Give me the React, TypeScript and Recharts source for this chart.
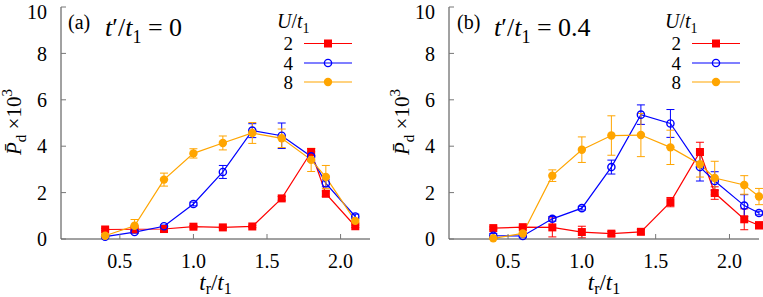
import React from 'react';
import { LineChart, Line, XAxis, YAxis, ErrorBar, Legend } from 'recharts';

// t_r / t_1 values
const trA = [0.4, 0.6, 0.8, 1.0, 1.2, 1.4, 1.6, 1.8, 1.9, 2.1];
const trB = [0.4, 0.6, 0.8, 1.0, 1.2, 1.4, 1.6, 1.8, 1.9, 2.1, 2.2];

// panel (a): t'/t1 = 0
const aU2 = [0.41, 0.42, 0.43, 0.53, 0.5, 0.54, 1.75, 3.75, 1.95, 0.55];
const aU2Err = [0.05, 0.05, 0.05, 0.05, 0.05, 0.05, 0.08, 0.15, 0.12, 0.05];
const aU4 = [0.1, 0.3, 0.55, 1.51, 2.89, 4.67, 4.45, 3.56, 2.4, 0.97];
const aU4Err = [0.05, 0.05, 0.05, 0.08, 0.28, 0.3, 0.55, 0.2, 0.15, 0.1];
const aU8 = [0.14, 0.57, 2.56, 3.69, 4.14, 4.57, 4.34, 3.41, 2.67, 0.78];
const aU8Err = [0.05, 0.27, 0.28, 0.2, 0.3, 0.45, 0.4, 0.5, 0.5, 0.1];

// panel (b): t'/t1 = 0.4
const bU2 = [0.47, 0.51, 0.5, 0.3, 0.23, 0.31, 1.59, 3.75, 1.98, 0.85, 0.59];
const bU2Err = [0.05, 0.05, 0.41, 0.25, 0.1, 0.1, 0.2, 0.42, 0.27, 0.45, 0.15];
const bU4 = [0.14, 0.13, 0.87, 1.33, 3.1, 5.36, 4.98, 3.1, 2.5, 1.44, 1.12];
const bU4Err = [0.1, 0.05, 0.1, 0.08, 0.3, 0.42, 0.6, 0.6, 0.4, 0.47, 0.08];
const bU8 = [0.03, 0.24, 2.73, 3.85, 4.46, 4.48, 3.95, 3.22, 2.63, 2.33, 1.83];
const bU8Err = [0.03, 0.05, 0.25, 0.55, 0.85, 0.93, 0.74, 0.55, 0.72, 0.4, 0.35];

const uLabels = ['2', '4', '8'];
const colors = ['#ff0000', '#0000ff', '#ffa500'];
const xTicks = [0.5, 1.0, 1.5, 2.0];
const yTicks = [0, 2, 4, 6, 8, 10];

const FONT = "'Liberation Serif', Tinos, serif";

const buildRows = (xs: number[], s: number[][], e: number[][]) =>
  xs.map((x, i) => ({
    x,
    u2: s[0][i], e2: e[0][i],
    u4: s[1][i], e4: e[1][i],
    u8: s[2][i], e8: e[2][i],
  }));

const dataA = buildRows(trA, [aU2, aU4, aU8], [aU2Err, aU4Err, aU8Err]);
const dataB = buildRows(trB, [bU2, bU4, bU8], [bU2Err, bU4Err, bU8Err]);

const Marker = ({ kind, cx, cy, color }: any) => {
  if (cx == null || cy == null) return null;
  if (kind === 0) return <rect x={cx - 4} y={cy - 4} width={8} height={8} fill={color} />;
  if (kind === 1) return <circle cx={cx} cy={cy} r={3.6} fill="none" stroke={color} strokeWidth={1.4} />;
  return <circle cx={cx} cy={cy} r={4.2} fill={color} />;
};

const makeDot = (kind: number) => (p: any) => (
  <Marker key={`d-${kind}-${p.index}`} kind={kind} cx={p.cx} cy={p.cy} color={colors[kind]} />
);

const LegendBox = (props: any) => {
  const payload = (props.payload || []).filter((p: any) => uLabels.includes(String(p.value)));
  const rowsY = [35.5, 55, 74];
  return (
    <svg width={100} height={90} style={{ overflow: 'visible', fontFamily: FONT }}>
      <text x={7} y={20} fontSize={20} fill="#000" style={{ fontFamily: FONT }}>
        <tspan fontStyle="italic">U</tspan>
        <tspan>/</tspan>
        <tspan fontStyle="italic">t</tspan>
        <tspan fontSize={14} dy={5}>1</tspan>
      </text>
      {uLabels.map((u, i) => {
        const entry = payload.find((p: any) => String(p.value) === u);
        const color = entry ? entry.color : colors[i];
        return (
          <g key={u}>
            <text x={23} y={rowsY[i] + 6.5} fontSize={19} textAnchor="end" fill="#000" style={{ fontFamily: FONT }}>{u}</text>
            <line x1={34} x2={82} y1={rowsY[i]} y2={rowsY[i]} stroke={color} strokeWidth={1.2} />
            <Marker kind={i} cx={58} cy={rowsY[i]} color={color} />
          </g>
        );
      })}
    </svg>
  );
};

const Panel = ({ data, width, yAxisWidth, rightMargin, legendLeft }: any) => (
  <LineChart
    width={width}
    height={297}
    data={data}
    margin={{ top: 7, right: rightMargin, bottom: 0, left: 0 }}
  >
    <XAxis
      xAxisId="b"
      dataKey="x"
      type="number"
      domain={[0.1, 2.2]}
      ticks={xTicks}
      tickFormatter={(v: number) => v.toFixed(1)}
      height={58}
      tickSize={-5}
      tickMargin={20}
      stroke="#444"
      tickLine={{ stroke: '#777' }}
      tick={{ fontSize: 20, fill: '#000', style: { fontFamily: FONT } }}
    />
    <XAxis
      xAxisId="t"
      orientation="top"
      dataKey="x"
      type="number"
      domain={[0.1, 2.2]}
      ticks={xTicks}
      tickFormatter={() => ''}
      height={0}
      tickSize={-5}
      axisLine={false}
      stroke="#444"
      tickLine={{ stroke: '#777' }}
    />
    <YAxis
      yAxisId="l"
      type="number"
      domain={[0, 10]}
      ticks={yTicks}
      width={yAxisWidth}
      tickSize={-5}
      tickMargin={19}
      stroke="#444"
      tickLine={{ stroke: '#777' }}
      tick={{ fontSize: 20, fill: '#000', style: { fontFamily: FONT } }}
    />
    <YAxis
      yAxisId="r"
      orientation="right"
      type="number"
      domain={[0, 10]}
      ticks={yTicks}
      width={0}
      tickSize={-5}
      tickFormatter={() => ''}
      stroke="#444"
      tickLine={{ stroke: '#777' }}
    />
    <Legend
      layout="vertical"
      align="center"
      verticalAlign="middle"
      content={LegendBox}
      wrapperStyle={{ position: 'absolute', left: legendLeft, top: 8, width: 100, height: 90 }}
    />
    {['u2', 'u4', 'u8'].map((k, i) => (
      <Line
        key={k}
        xAxisId="b"
        yAxisId="l"
        dataKey={k}
        name={uLabels[i]}
        stroke={colors[i]}
        strokeWidth={1.2}
        dot={makeDot(i)}
        activeDot={false}
        isAnimationActive={false}
      >
        <ErrorBar dataKey={`e${k.slice(1)}`} width={4} stroke={colors[i]} strokeWidth={1} direction="y" />
      </Line>
    ))}
  </LineChart>
);

const PanelTitle = ({ x, tag, value }: any) => (
  <g style={{ fontFamily: FONT }}>
    <text x={x} y={29} fontSize={20} fill="#000">{tag}</text>
    <text x={x + 37} y={36} fontSize={26} fill="#000">
      <tspan fontStyle="italic">t</tspan>
      <tspan>{'\u2032/'}</tspan>
      <tspan fontStyle="italic">t</tspan>
      <tspan fontSize={18} dy={7}>1</tspan>
      <tspan dy={-7}>{` = ${value}`}</tspan>
    </text>
  </g>
);

const XTitle = ({ cx }: any) => (
  <text x={cx} y={290} fontSize={23} textAnchor="middle" fill="#000" style={{ fontFamily: FONT }}>
    <tspan fontStyle="italic">t</tspan>
    <tspan fontSize={16} dy={4}>r</tspan>
    <tspan dy={-4}>/</tspan>
    <tspan fontStyle="italic">t</tspan>
    <tspan fontSize={16} dy={4}>1</tspan>
  </text>
);

const YTitle = ({ x, cy }: any) => (
  <text x={x} y={cy} fontSize={21} textAnchor="middle" fill="#000" style={{ fontFamily: FONT }} transform={`rotate(-90 ${x} ${cy})`}>
    <tspan fontStyle="italic">{'P\u0304'}</tspan>
    <tspan fontSize={15} dy={5}>d</tspan>
    <tspan dy={-5}>{' \u00d710'}</tspan>
    <tspan fontSize={15} dy={-9}>3</tspan>
  </text>
);

export default function App() {
  return (
    <div style={{ position: 'absolute', left: 0, top: 0, width: 763, height: 297, background: '#fff' }}>
      <div style={{ position: 'absolute', left: 0, top: 0 }}>
        <Panel data={dataA} width={380} yAxisWidth={61} rightMargin={10} legendLeft={270} />
      </div>
      <div style={{ position: 'absolute', left: 380, top: 0 }}>
        <Panel data={dataB} width={383} yAxisWidth={69} rightMargin={4} legendLeft={278} />
      </div>
      <svg
        width={763}
        height={297}
        style={{ position: 'absolute', left: 0, top: 0, pointerEvents: 'none', overflow: 'visible' }}
      >
        <PanelTitle x={68} tag="(a)" value="0" />
        <PanelTitle x={457} tag="(b)" value="0.4" />
        <XTitle cx={215.5} />
        <XTitle cx={604} />
        <YTitle x={21} cy={122} />
        <YTitle x={409} cy={122} />
      </svg>
    </div>
  );
}
